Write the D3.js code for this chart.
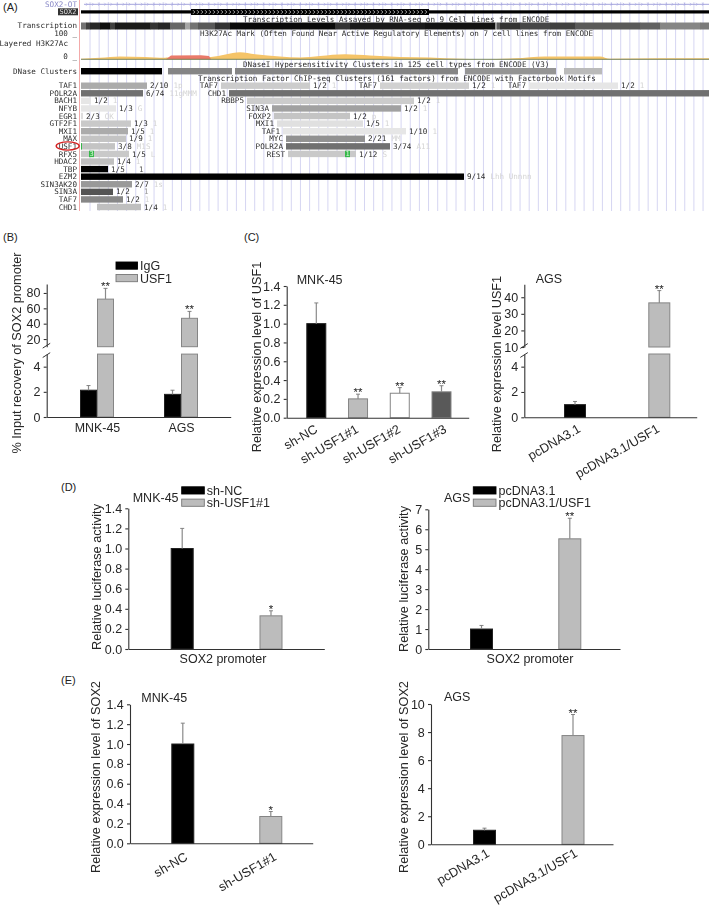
<!DOCTYPE html>
<html><head><meta charset="utf-8">
<script src="https://cdn.jsdelivr.net/npm/d3@7"></script>
<style>
html,body{margin:0;padding:0;background:#fff}
svg{display:block}
.ax text{font-family:"Liberation Sans",Arial,sans-serif;fill:#262626}
.ax path,.ax line{stroke:#333;stroke-width:1.1}
</style></head><body>
<svg id="c" width="709" height="905"></svg>
<script>
// ---------- Panel A data (genome-browser tracks, window units 0-628) ----------
const heatStart=[0,5,9,19,29,34,69,77,89,104,109,117,134,149,254,269,344,414,416,419,439,469,494,559,579,619];
const heatScore=[550,750,850,950,750,900,800,850,600,350,550,650,800,960,800,900,930,400,650,800,720,750,650,620,480,520];
const h3Pos=[0,19,39,64,84,85,130,159,174,199,219,239,264,289,319,349,379,399,434,464,519,529,579,628];
const h3Val=[2,6,12,10,6,8,10,29,21,12,8,14,21,16,10,8,2,0,4,12,12,2,4,4];
const redPos=[85,90,120,128,130];
const redVal=[0,16,17,14,0];
const dnaseStart=[0,87,154,384,483];
const dnaseEnd=[81,151,377,475,521];
const dnaseScore=[1000,480,480,420,270];
const tfRow=[0,0,0,0,1,1,2,2,3,3,4,4,5,5,6,6,7,7,8,8,9,9,10,11,12,13,14,15,16];
const tfName=["TAF1","TAF7","TAF7","TAF7","POLR2A","CHD1","BACH1","RBBP5","NFYB","SIN3A","EGR1","FOXP2","GTF2F1","MXI1","MXI1","TAF1","MAX","MYC","USF1","POLR2A","RFX5","REST","HDAC2","TBP","EZM2","SIN3AK20","SIN3A","TAF7","CHD1"];
const tfStart=[0,140,299,448,0,148,0,166,0,191,0,193,0,196,0,202,0,205,0,205,0,207,0,0,0,0,0,0,16];
const tfEnd=[66,229,388,537,62,628,10,333,35,320,2,269,50,282,47,325,45,284,34,309,48,275,33,27,383,51,32,42,60];
const tfScore=[330,200,180,100,560,560,100,200,100,370,130,230,210,120,330,100,230,430,230,560,210,210,250,1000,1000,400,670,470,250];
const tfCount=["2/10","1/2","1/2","1/2","6/74","","1/2","1/2","1/3","1/2","2/3","1/2","1/3","1/5","1/5","1/10","1/9","2/21","3/8","3/74","1/5","1/12","1/4","1/5","9/14","2/7","1/2","1/2","1/4"];
const tfFaint=["1p","1","1","1","11gMMM","","1","1","G","1","OK","p","1","1","1","1","1","MM","M1S","A11","L","S","1","","Lhh Unnnn","1s","","1","1"];
const greenStart=[8,264];
const greenLabel=["3","1"];
const greenRow=[9,9];

// ---------- Bar panel data ----------
const bCategories=["MNK-45","AGS"], bSeries=["IgG","USF1"];
const bIgG=[2.13,1.8], bIgGTop=[2.5,2.13];
const bUSF1=[72,47], bUSF1Top=[86,56];
const c1Categories=["sh-NC","sh-USF1#1","sh-USF1#2","sh-USF1#3"];
const c1Values=[1,0.2,0.26,0.275], c1Top=[1.22,0.25,0.32,0.34], c1Stars=["","**","**","**"];
const c2Categories=["pcDNA3.1","pcDNA3.1/USF1"];
const c2Values=[1,36.6], c2Top=[1.25,44], c2Stars=["","**"];
const d1Categories=["sh-NC","sh-USF1#1"];
const d1Values=[1,0.33], d1Top=[1.2,0.38], d1Stars=["","*"];
const d2Categories=["pcDNA3.1","pcDNA3.1/USF1"];
const d2Values=[1,5.52], d2Top=[1.18,6.55], d2Stars=["","**"];
const e1Categories=["sh-NC","sh-USF1#1"];
const e1Values=[1,0.27], e1Top=[1.21,0.32], e1Stars=["","*"];
const e2Categories=["pcDNA3.1","pcDNA3.1/USF1"];
const e2Values=[1,7.75], e2Top=[1.15,9.25], e2Stars=["","**"];
const ticks14=[0,0.2,0.4,0.6,0.8,1,1.2,1.4];

const BLACK="#000", GRAY="#bcbcbc", WHITE="#fff", DARK="#595959";
const FF='"Liberation Sans",Arial,sans-serif', MONO='"DejaVu Sans Mono",monospace';
const svg=d3.select("#c");
svg.append("rect").attr("width",709).attr("height",905).attr("fill","#fff");

// ---------- Panel A ----------
const A=svg.append("g").style("filter","blur(0.45px)");
const gx=d3.scaleLinear().domain([0,628]).range([81,709]);
const shade=d3.scaleLinear().domain([0,1000]).range(["#fff","#000"]);
const rowY=d3.scaleLinear().domain([0,16]).range([85.7,207]);
const gridX=d3.range(9,628,9.15);
A.selectAll("line.g").data(gridX).join("line").attr("x1",d=>gx(d)).attr("x2",d=>gx(d)).attr("y1",2).attr("y2",211)
  .attr("stroke","#d6d6f2").attr("stroke-width",1);
A.append("line").attr("x1",79.5).attr("x2",79.5).attr("y1",0).attr("y2",211).attr("stroke","#f2a0a0").attr("stroke-width",0.9);
function mono(x,y,t,anchor,fill,size){
  return A.append("text").attr("x",x).attr("y",y).attr("dy","0.34em").attr("text-anchor",anchor||"start")
    .attr("font-family",MONO).attr("font-size",size||7.6).attr("fill",fill||"#2c2c2c").text(t);
}
mono(77,4.3,"SOX2-OT","end","#8a8ac8");
A.append("line").attr("x1",gx(3)).attr("x2",gx(628)).attr("y1",4.3).attr("y2",4.3).attr("stroke","#9a9ad8").attr("stroke-width",0.9);
A.selectAll("path.ot").data(d3.range(6,625,6.1)).join("path")
  .attr("d",d=>`M${gx(d)-1},2.8L${gx(d)+0.5},4.3L${gx(d)-1},5.8`).attr("fill","none").attr("stroke","#a5a5e0").attr("stroke-width",0.6);
A.append("rect").attr("x",58).attr("y",8.3).attr("width",20).attr("height",7).attr("fill","#333");
mono(68,11.8,"SOX2","middle","#ddd",7);
A.append("rect").attr("x",gx(0)).attr("y",10.3).attr("width",gx(628)-gx(0)).attr("height",3.2).attr("fill","#000");
A.append("rect").attr("x",gx(110)).attr("y",9).attr("width",gx(348)-gx(110)).attr("height",6).attr("fill","#000");
A.selectAll("path.ch").data(d3.range(113,346,4)).join("path")
  .attr("d",d=>`M${gx(d)-1},10.2L${gx(d)+0.8},12L${gx(d)-1},13.8`).attr("fill","none").attr("stroke","#eee").attr("stroke-width",0.7);
mono(243,19,"Transcription Levels Assayed by RNA-seq on 9 Cell Lines from ENCODE");
mono(77,25.6,"Transcription","end");
A.selectAll("rect.h").data(heatStart).join("rect")
  .attr("x",d=>gx(d)).attr("y",22.5).attr("height",7)
  .attr("width",(d,i)=>gx(i+1<heatStart.length?heatStart[i+1]:628)-gx(d)+0.3)
  .attr("fill",(d,i)=>shade(heatScore[i]));
mono(200,33.6,"H3K27Ac Mark (Often Found Near Active Regulatory Elements) on 7 cell lines from ENCODE");
mono(77,33.6,"100 _","end");
mono(68,43,"Layered H3K27Ac","end");
mono(77,56,"0 _","end");
const sy=d3.scaleLinear().domain([0,100]).range([59.3,35.3]);
const h3Area=d3.area().x((d,i)=>gx(d)).y0(sy(0)).y1((d,i)=>sy(h3Val[i])).curve(d3.curveMonotoneX);
A.append("path").attr("d",h3Area(h3Pos)).attr("fill","#f5c468");
const redArea=d3.area().x(d=>gx(d)).y0(sy(0)).y1((d,i)=>sy(redVal[i]));
A.append("path").attr("d",redArea(redPos)).attr("fill","#ea7a6a");
A.append("line").attr("x1",81).attr("x2",709).attr("y1",59.3).attr("y2",59.3).attr("stroke","#6a7a50").attr("stroke-width",0.9);
mono(243,64,"DNaseI Hypersensitivity Clusters in 125 cell types from ENCODE (V3)");
mono(77,71,"DNase Clusters","end");
A.selectAll("rect.d").data(dnaseStart).join("rect").attr("x",d=>gx(d)).attr("y",68).attr("height",6.4)
  .attr("width",(d,i)=>gx(dnaseEnd[i])-gx(d)).attr("fill",(d,i)=>shade(dnaseScore[i]));
mono(198,78.5,"Transcription Factor ChIP-seq Clusters (161 factors) from ENCODE with Factorbook Motifs");
tfName.forEach((n,i)=>{
  const y=rowY(tfRow[i]), s=tfStart[i], e=tfEnd[i];
  A.append("rect").attr("x",gx(s)).attr("y",y-3.2).attr("width",gx(e)-gx(s)).attr("height",6.4).attr("fill",shade(tfScore[i]));
  mono(s<100?77:gx(s)-3,y,n,"end");
  if(tfCount[i]){
    mono(gx(e)+3,y,tfCount[i]);
    const w=tfCount[i].length*4.6+5;
    mono(gx(e)+3+w,y,tfFaint[i],"start","#d4d4d4");
  }
});
mono(gx(27)+3+28,rowY(11),"1","start","#555");
mono(gx(32)+3+28,rowY(14),"1","start","#999");
greenStart.forEach((s,i)=>{
  A.append("rect").attr("x",gx(s)).attr("y",rowY(greenRow[i])-3.2).attr("width",5).attr("height",6.4).attr("fill","#36b84a");
  mono(gx(s)+2.5,rowY(greenRow[i]),greenLabel[i],"middle","#d8f5d8",7);
});
A.append("rect").attr("x",81).attr("y",rowY(8)-3.2).attr("width",1).attr("height",6.4).attr("fill","#36b84a");
svg.append("ellipse").attr("cx",67.7).attr("cy",146).attr("rx",11.5).attr("ry",4.1)
  .attr("fill","none").attr("stroke","#d42020").attr("stroke-width",1.4);

// ---------- Panel letters ----------
const LETTERS=[["(A)",3,7],["(B)",3,237],["(C)",244,237],["(D)",61,487],["(E)",61,680]];
LETTERS.forEach(l=>svg.append("text").attr("x",l[1]).attr("y",l[2]).attr("dy","0.36em").attr("font-family",FF).attr("font-size",11).attr("fill","#222").text(l[0]));

// ---------- Bar panels ----------
function barPanel(cfg){
  const g=svg.append("g").style("filter","blur(0.3px)");
  const L=cfg.layout;
  const cx=d3.scalePoint().domain(cfg.cats).range(L.centers);
  const low=d3.scaleLinear().domain(cfg.lowDomain).range(cfg.lowRange);
  const up=cfg.upDomain?d3.scaleLinear().domain(cfg.upDomain).range(cfg.upRange):null;
  const brk=cfg.lowDomain[1];
  cfg.marks.forEach(m=>{
    const X=cx(m.cat)+(m.off||0)-L.barW/2, c=m.fill===BLACK?"#222":"#858585";
    const segs=(up&&m.value>brk)?[[low(brk),low(0)],[up(m.value),up(cfg.upDomain[0])]]:[[low(m.value),low(0)]];
    segs.forEach(s=>g.append("rect").attr("x",X+0.5).attr("y",s[0]).attr("width",L.barW-1).attr("height",s[1]-s[0]).attr("fill",m.fill).attr("stroke",c).attr("stroke-width",1));
    const Y=(up&&m.value>brk)?up:low, ex=cx(m.cat)+(m.off||0);
    g.append("line").attr("x1",ex).attr("x2",ex).attr("y1",Y(m.value)).attr("y2",Y(m.top)).attr("stroke","#8a8a8a").attr("stroke-width",1.2);
    g.append("line").attr("x1",ex-2).attr("x2",ex+2).attr("y1",Y(m.top)).attr("y2",Y(m.top)).attr("stroke","#777").attr("stroke-width",0.9);
    if(m.star) g.append("text").attr("x",ex).attr("y",Y(m.top)+2).attr("text-anchor","middle").attr("font-family",FF).attr("font-size",11.5).attr("fill","#222").text(m.star);
  });
  const fs=12.5;
  const yA=g.append("g").attr("class","ax").attr("transform",`translate(${L.axisX},0)`)
    .call(d3.axisLeft(low).tickValues(cfg.lowTicks).tickSize(3).tickPadding(3.2).tickSizeOuter(0).tickFormat(cfg.fmt||d3.format("d")));
  yA.selectAll("text").attr("font-size",fs);
  if(up){
    const yU=g.append("g").attr("class","ax").attr("transform",`translate(${L.axisX},0)`)
      .call(d3.axisLeft(up).tickValues(cfg.upTicks).tickSize(3).tickPadding(3.2).tickSizeOuter(0).tickFormat(d3.format("d")));
    yU.selectAll("text").attr("font-size",fs);
    [up(cfg.upDomain[0])-1,low(brk)+1].forEach(y=>g.append("line").attr("x1",L.axisX-4).attr("x2",L.axisX+3.5).attr("y1",y+2.4).attr("y2",y-2.4).attr("stroke","#333").attr("stroke-width",1));
  }
  const base=d3.scaleLinear().range([L.axisX,L.axisEnd]);
  g.append("g").attr("class","ax").attr("transform",`translate(0,${low(0)})`).call(d3.axisBottom(base).tickValues([]).tickSizeOuter(0));
  const xl=g.append("g").attr("class","ax").attr("transform",`translate(0,${low(0)})`).call(d3.axisBottom(cx).tickSize(0));
  xl.select(".domain").remove();
  if(L.rot){
    xl.selectAll("text").attr("font-size",12.8).attr("text-anchor","end")
      .attr("transform",(d,i)=>`translate(${L.xOff[i]-cx(d)},${L.xDrop}) rotate(-30)`).attr("y",0).attr("x",0).attr("dy",0).attr("dx",0);
  } else if(L.single){
    xl.selectAll("text").remove();
  } else {
    xl.selectAll("text").attr("font-size",12.4).attr("y",L.xDrop).attr("dy","0");
  }
  if(L.single) g.append("text").attr("x",L.single[1]).attr("y",L.single[2]).attr("text-anchor","middle").attr("font-family",FF).attr("font-size",12.5).attr("fill","#262626").text(L.single[0]);
  g.append("text").attr("transform",`translate(${L.labelX},${L.labelY}) rotate(-90)`).attr("text-anchor","middle")
    .attr("font-family",FF).attr("font-size",12.7).attr("fill","#262626").text(cfg.ylabel);
  if(cfg.title) g.append("text").attr("x",L.titleX).attr("y",L.titleY).attr("dy","0.36em").attr("font-family",FF).attr("font-size",12.5).attr("fill","#262626").text(cfg.title);
  if(cfg.legend) cfg.legend.forEach((t,i)=>{
    const y=L.legendY[i];
    g.append("rect").attr("x",L.legendX).attr("y",y).attr("width",L.legendW).attr("height",7.2).attr("fill",i?GRAY:BLACK).attr("stroke",i?"#777":"#000").attr("stroke-width",0.9);
    g.append("text").attr("x",L.legendX+L.legendW+2.5).attr("y",y+3.6).attr("dy","0.36em").attr("font-family",FF).attr("font-size",12.5).attr("fill","#262626").text(t);
  });
}
const oneSeries=(cats,v,t,s,fills)=>cats.map((c,i)=>({cat:c,value:v[i],top:t[i],star:s[i],fill:fills[i]}));
const f1=d3.format(".1f");

barPanel({cats:bCategories,ylabel:"% Input recovery of SOX2 promoter",legend:bSeries,
  marks:[...bCategories.map((c,i)=>({cat:c,off:-8.5,value:bIgG[i],top:bIgGTop[i],fill:BLACK})),
         ...bCategories.map((c,i)=>({cat:c,off:8.5,value:bUSF1[i],top:bUSF1Top[i],fill:GRAY,star:"**"}))],
  lowDomain:[0,5],lowRange:[417,354.1],lowTicks:[0,2,4],upDomain:[10,91.7],upRange:[346.7,284],upTicks:[20,40,60,80],
  layout:{centers:[97,181],barW:17,axisX:46.7,axisEnd:230.7,xDrop:14.5,labelX:21,labelY:353,legendX:116,legendY:[262,274.5],legendW:21.5}});
barPanel({cats:c1Categories,title:"MNK-45",ylabel:"Relative expression level of USF1",
  marks:oneSeries(c1Categories,c1Values,c1Top,c1Stars,[BLACK,GRAY,WHITE,DARK]),
  lowDomain:[0,1.4],lowRange:[417.7,286],lowTicks:ticks14,fmt:f1,
  layout:{centers:[316.3,441.5],barW:20,axisX:286.7,axisEnd:468.7,rot:true,xOff:[318,359,401,447],xDrop:14,labelX:261,labelY:357,titleX:296.7,titleY:279}});
barPanel({cats:c2Categories,title:"AGS",ylabel:"Relative expression level USF1",
  marks:oneSeries(c2Categories,c2Values,c2Top,c2Stars,[BLACK,GRAY]),
  lowDomain:[0,5],lowRange:[417.3,354],lowTicks:[0,2,4],upDomain:[10,47.8],upRange:[347,284.3],upTicks:[10,20,30,40],
  layout:{centers:[575,659.3],barW:22,axisX:524.3,axisEnd:696.7,rot:true,xOff:[581,660],xDrop:14,labelX:501,labelY:364,titleX:535.7,titleY:278}});
barPanel({cats:d1Categories,title:"MNK-45",ylabel:"Relative luciferase activity",legend:d1Categories,
  marks:oneSeries(d1Categories,d1Values,d1Top,d1Stars,[BLACK,GRAY]),
  lowDomain:[0,1.4],lowRange:[649,508.3],lowTicks:ticks14,fmt:f1,
  layout:{centers:[182.2,271],barW:23,axisX:128.3,axisEnd:324.3,single:["SOX2 promoter",223,662.5],labelX:101,labelY:577,titleX:132.7,titleY:497,legendX:181.7,legendY:[486.8,499.1],legendW:22.6}});
barPanel({cats:d2Categories,title:"AGS",ylabel:"Relative luciferase activity",legend:d2Categories,
  marks:oneSeries(d2Categories,d2Values,d2Top,d2Stars,[BLACK,GRAY]),
  lowDomain:[0,7],lowRange:[649,509.3],lowTicks:d3.range(0,8),
  layout:{centers:[481.5,569.8],barW:23,axisX:428.3,axisEnd:620,single:["SOX2 promoter",530,662.5],labelX:408,labelY:579,titleX:444,titleY:497,legendX:473.3,legendY:[486.8,499.1],legendW:22.7}});
barPanel({cats:e1Categories,title:"MNK-45",ylabel:"Relative expression level of SOX2",
  marks:oneSeries(e1Categories,e1Values,e1Top,e1Stars,[BLACK,GRAY]),
  lowDomain:[0,1.4],lowRange:[843.3,704.3],lowTicks:ticks14,fmt:f1,
  layout:{centers:[182.8,270.8],barW:23,axisX:130,axisEnd:312.7,rot:true,xOff:[188,277],xDrop:16,labelX:100,labelY:777,titleX:141.3,titleY:697.7}});
barPanel({cats:e2Categories,title:"AGS",ylabel:"Relative expression level of SOX2",
  marks:oneSeries(e2Categories,e2Values,e2Top,e2Stars,[BLACK,GRAY]),
  lowDomain:[0,10],lowRange:[844.3,704],lowTicks:[0,2,4,6,8,10],
  layout:{centers:[484.5,573],barW:23,axisX:431,axisEnd:613,rot:true,xOff:[490,578],xDrop:11.5,labelX:407.5,labelY:777,titleX:444,titleY:696}});
</script></body></html>
